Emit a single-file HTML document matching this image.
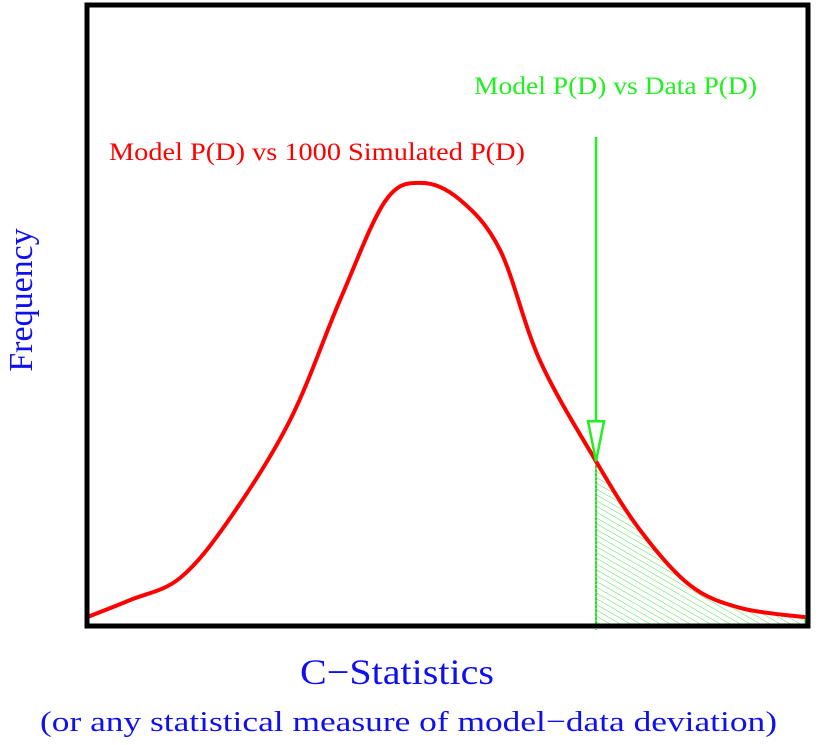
<!DOCTYPE html>
<html><head><meta charset="utf-8"><style>
body{margin:0;background:#fff;}
svg{display:block;font-family:"Liberation Serif",serif;}
</style></head><body>
<svg id="chart" width="830" height="745" viewBox="0 0 830 745">
<defs>
<pattern id="hatch" patternUnits="userSpaceOnUse" width="5" height="5" patternTransform="rotate(30)">
<line x1="0" y1="0" x2="5" y2="0" stroke="#22dd22" stroke-width="0.8"/>
</pattern>
</defs>
<g id="plot"></g>
<rect x="87" y="5" width="721" height="621" fill="none" stroke="#000" stroke-width="5"/>
<text x="109" y="160" fill="#ff0000" font-size="25" textLength="416" lengthAdjust="spacingAndGlyphs">Model P(D) vs  1000 Simulated P(D)</text>
<text x="474" y="94" fill="#22ee22" font-size="25" textLength="283" lengthAdjust="spacingAndGlyphs">Model P(D) vs Data P(D)</text>
<text x="300" y="684" fill="#1010ee" font-size="36" textLength="194" lengthAdjust="spacingAndGlyphs">C−Statistics</text>
<text x="40" y="731" fill="#1010ee" font-size="29" textLength="737" lengthAdjust="spacingAndGlyphs">(or any statistical measure of model−data deviation)</text>
<text transform="translate(32,300) rotate(-90)" fill="#1010ee" font-size="34" text-anchor="middle">Frequency</text>
</svg>
<script>
const xVals=[0,6,12.9,19.8,28.2,35.1,41.3,46.2,51.7,57.3,62.8,70.5,76.7,83.6,90.6,99.6];
const yVals=[1.1,5,10,23.5,46,73.2,95.5,99.8,96,84.5,59.5,36.8,20.9,8.4,3.2,1.1];
const dataStat=[70.6];
const sx=v=>87+v/100*721, sy=v=>622-v/100*440;
const g=document.getElementById('plot');
const ns='http://www.w3.org/2000/svg';
const P=xVals.map((x,i)=>[sx(x),sy(yVals[i])]);
function cr(pts){let d=`M${pts[0][0]},${pts[0][1]}`;for(let i=0;i<pts.length-1;i++){const p0=pts[Math.max(0,i-1)],p1=pts[i],p2=pts[i+1],p3=pts[Math.min(pts.length-1,i+2)];d+=` C${p1[0]+(p2[0]-p0[0])/6},${p1[1]+(p2[1]-p0[1])/6} ${p2[0]-(p3[0]-p1[0])/6},${p2[1]-(p3[1]-p1[1])/6} ${p2[0]},${p2[1]}`;}return d;}
const xs=dataStat[0];let yi=0;
for(let i=0;i<xVals.length-1;i++){if(xs>=xVals[i]&&xs<=xVals[i+1]){const t=(xs-xVals[i])/(xVals[i+1]-xVals[i]);yi=yVals[i]+t*(yVals[i+1]-yVals[i]);}}
const tail=[[sx(xs),sy(yi)]].concat(P.filter((p,i)=>xVals[i]>xs));
const hatch=document.createElementNS(ns,'path');
hatch.setAttribute('d',cr(tail)+` L${sx(99.6)},624 L${sx(xs)},624 Z`);
hatch.setAttribute('fill','url(#hatch)');hatch.setAttribute('stroke','#22dd22');hatch.setAttribute('stroke-width','1');


g.appendChild(hatch);
const vl=document.createElementNS(ns,'line');
vl.setAttribute('x1',sx(xs));vl.setAttribute('x2',sx(xs));vl.setAttribute('y1',sy(yi));vl.setAttribute('y2',630);
vl.setAttribute('stroke','#22dd22');vl.setAttribute('stroke-width','2');vl.setAttribute('stroke-dasharray','3,1');


g.appendChild(vl);
const curve=document.createElementNS(ns,'path');
curve.setAttribute('d',cr(P));curve.setAttribute('fill','none');curve.setAttribute('stroke','#ff0000');curve.setAttribute('stroke-width','4');


g.appendChild(curve);
const ax=sx(xs),ay=sy(yi);
const arr=document.createElementNS(ns,'line');
arr.setAttribute('x1',ax);arr.setAttribute('x2',ax);arr.setAttribute('y1',137);arr.setAttribute('y2',ay-40);
arr.setAttribute('stroke','#22ee22');arr.setAttribute('stroke-width','2.5');


g.appendChild(arr);
const head=document.createElementNS(ns,'polygon');
head.setAttribute('points',`${ax-8},${ay-40} ${ax+8},${ay-40} ${ax},${ay}`);
head.setAttribute('fill','none');head.setAttribute('stroke','#22ee22');head.setAttribute('stroke-width','2.5');


g.appendChild(head);
</script>
</body></html>
